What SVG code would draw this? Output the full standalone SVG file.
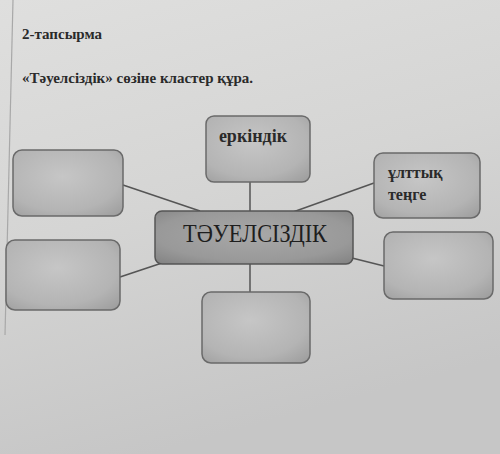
<svg xmlns="http://www.w3.org/2000/svg" width="500" height="454" viewBox="0 0 500 454">
<defs>
<linearGradient id="bg" x1="0" y1="0" x2="0.3" y2="1">
<stop offset="0" stop-color="#dfdfde"/>
<stop offset="0.5" stop-color="#d5d5d4"/>
<stop offset="1" stop-color="#c6c6c6"/>
</linearGradient>
<radialGradient id="box" cx="0.45" cy="0.4" r="0.75">
<stop offset="0" stop-color="#c6c6c6"/>
<stop offset="0.7" stop-color="#b4b4b4"/>
<stop offset="1" stop-color="#a0a0a0"/>
</radialGradient>
<radialGradient id="boxc" cx="0.5" cy="0.45" r="0.7">
<stop offset="0" stop-color="#a8a8a8"/>
<stop offset="0.7" stop-color="#999"/>
<stop offset="1" stop-color="#858585"/>
</radialGradient>
</defs>
<style>
.b{fill:url(#box);stroke:#6a6a6a;stroke-width:1.5}
.c{fill:url(#boxc);stroke:#555;stroke-width:1.5}
.t{font-family:"Liberation Serif","DejaVu Serif",serif;font-weight:bold;fill:#2a2a2a}
.m{font-family:"Liberation Serif","DejaVu Serif",serif;font-weight:normal;fill:#1e1e1e}
.ln{stroke:#555;stroke-width:1.5;fill:none}
</style>
<rect width="500" height="454" fill="url(#bg)"/>
<line x1="13" y1="0" x2="5" y2="335" stroke="#a8a8a8" stroke-width="1.2"/>
<text class="t" x="22" y="39" font-size="15">2-тапсырма</text>
<text class="t" x="22" y="83" font-size="15">«Тәуелсіздік» сөзіне кластер құра.</text>
<g id="connectors">
<line class="ln" x1="250" y1="182" x2="250" y2="212"/>
<line class="ln" x1="123" y1="185" x2="200" y2="211"/>
<line class="ln" x1="293" y1="212" x2="374" y2="183"/>
<line class="ln" x1="120" y1="277" x2="165" y2="262"/>
<line class="ln" x1="352" y1="258" x2="384" y2="266"/>
<line class="ln" x1="250" y1="264" x2="250" y2="292"/>
</g>
<g id="node-top">
<rect class="b" x="206" y="116" width="104" height="66" rx="8"/>
<text class="t" x="253" y="142" font-size="18" text-anchor="middle">еркіндік</text>
</g>
<g id="node-center">
<rect class="c" x="155" y="211" width="198" height="53" rx="7"/>
<text class="m" x="255" y="242" font-size="26" text-anchor="middle" textLength="144" lengthAdjust="spacingAndGlyphs">ТӘУЕЛСІЗДІК</text>
</g>
<g id="node-left-top">
<rect class="b" x="13" y="150" width="110" height="66" rx="9"/>
</g>
<g id="node-left-bottom">
<rect class="b" x="6" y="240" width="114" height="70" rx="9"/>
</g>
<g id="node-right-top">
<rect class="b" x="374" y="153" width="106" height="65" rx="9"/>
<text class="t" x="388" y="178" font-size="16">ұлттық</text>
<text class="t" x="388" y="200" font-size="16">теңге</text>
</g>
<g id="node-right-bottom">
<rect class="b" x="384" y="232" width="109" height="67" rx="9"/>
</g>
<g id="node-bottom">
<rect class="b" x="202" y="292" width="108" height="71" rx="9"/>
</g>
</svg>
